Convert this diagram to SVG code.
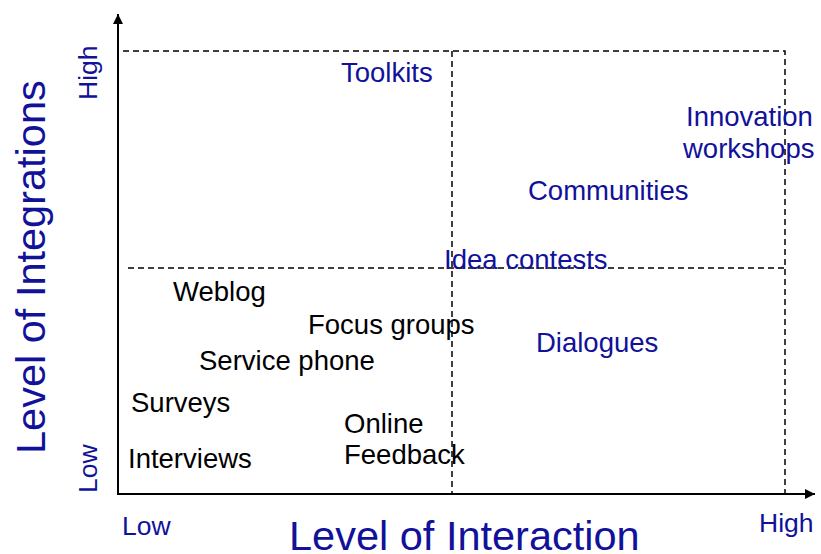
<svg xmlns="http://www.w3.org/2000/svg" width="821" height="554" viewBox="0 0 821 554">
  <style>
    text { font-family: "Liberation Sans", Arial, Helvetica, sans-serif; }
    .lbl { font-size: 27.5px; fill: #000; }
    .blue { font-size: 27.5px; fill: #11119a; }
    .tick { font-size: 26.5px; fill: #11119a; }
    .title { font-size: 41.5px; fill: #11119a; }
    .axis { stroke: #000; stroke-width: 2; fill: none; }
    .grid { stroke: #000; stroke-width: 1.5; stroke-dasharray: 6 4; fill: none; }
  </style>
  <defs>
    <marker id="arrow" viewBox="0 0 10 10" refX="10" refY="5" markerWidth="10" markerHeight="10" markerUnits="userSpaceOnUse" orient="auto">
      <path d="M0,0 L10,5 L0,10 Z" fill="#000"/>
    </marker>
  </defs>
  <rect width="821" height="554" fill="#fff"/>

  <!-- axes and quadrant grid -->
  <g id="connectors">
    <path class="grid" d="M123,51 H785 V494"/>
    <path class="grid" d="M452,51 V494"/>
    <path class="grid" d="M128,268 H785"/>
    <path class="axis" d="M118,494 V14" marker-end="url(#arrow)"/>
    <path class="axis" d="M117,494 H815" marker-end="url(#arrow)"/>
  </g>

  <!-- axis titles and scale ends -->
  <g id="axis-y-title"><text class="title" transform="translate(45,454) rotate(-90)">Level of Integrations</text></g>
  <g id="axis-x-title"><text class="title" x="289" y="549.5">Level of Interaction</text></g>
  <g id="y-high"><text class="tick" transform="translate(97,100) rotate(-90)">High</text></g>
  <g id="y-low"><text class="tick" transform="translate(97,493) rotate(-90)">Low</text></g>
  <g id="x-low"><text class="tick" x="122" y="535">Low</text></g>
  <g id="x-high"><text class="tick" x="759" y="532">High</text></g>

  <!-- high-integration methods -->
  <g id="toolkits"><text class="blue" x="341" y="82">Toolkits</text></g>
  <g id="innovation-workshops">
    <text class="blue" x="686" y="126">Innovation</text>
    <text class="blue" x="683" y="158">workshops</text>
  </g>
  <g id="communities"><text class="blue" x="528" y="200">Communities</text></g>
  <g id="idea-contests"><text class="blue" x="444" y="269">Idea contests</text></g>
  <g id="dialogues"><text class="blue" x="536" y="352">Dialogues</text></g>

  <!-- low-integration methods -->
  <g id="weblog"><text class="lbl" x="173" y="301">Weblog</text></g>
  <g id="focus-groups"><text class="lbl" x="308" y="334">Focus groups</text></g>
  <g id="service-phone"><text class="lbl" x="199" y="370">Service phone</text></g>
  <g id="surveys"><text class="lbl" x="131" y="412">Surveys</text></g>
  <g id="interviews"><text class="lbl" x="128" y="468">Interviews</text></g>
  <g id="online-feedback">
    <text class="lbl" x="344" y="433">Online</text>
    <text class="lbl" x="344" y="464">Feedback</text>
  </g>
</svg>
